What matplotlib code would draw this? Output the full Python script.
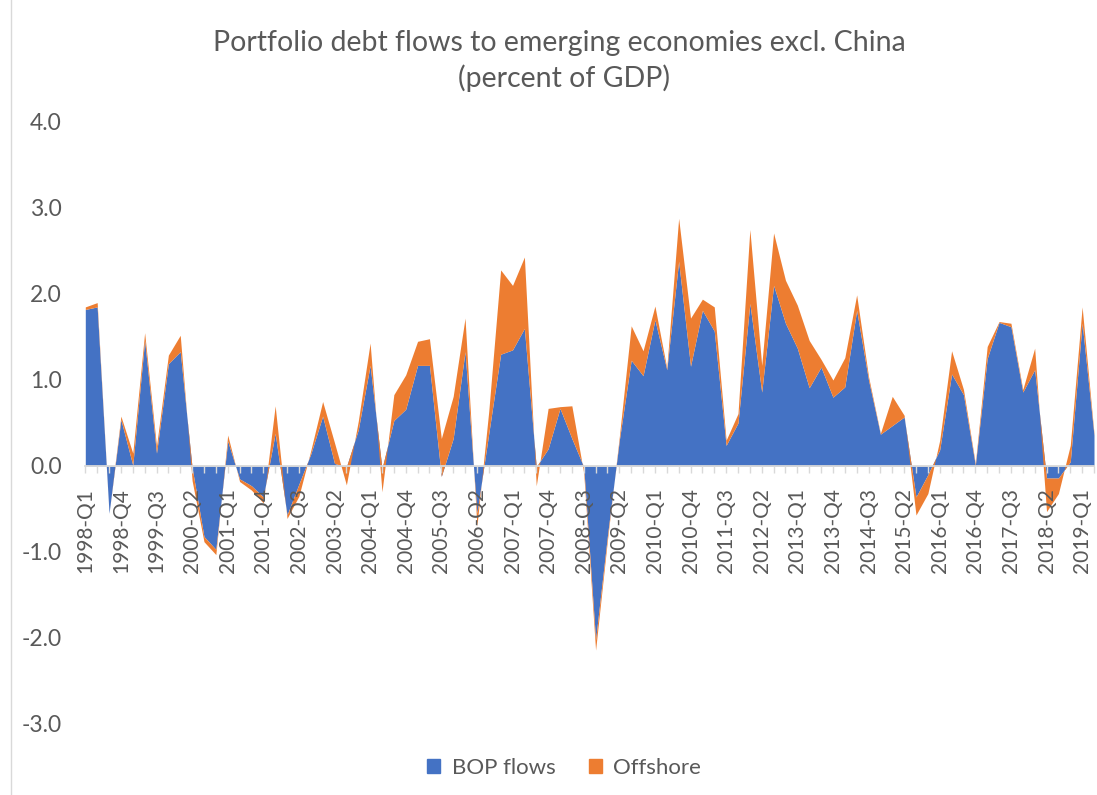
import numpy as np
import matplotlib
matplotlib.use("Agg")
import matplotlib.pyplot as plt
from matplotlib.patches import Patch
from matplotlib.lines import Line2D

plt.rcParams['font.family'] = ['Lato', 'DejaVu Sans']

# quarterly series, 1998-Q1 .. 2019-Q2 (percent of GDP)
years = list(range(1998, 2020))
quarters = ['%d-Q%d' % (y, q) for y in years for q in range(1, 5)][:86]

bop_flows = [1.82, 1.85, -0.55, 0.54, 0.01, 1.46, 0.15, 1.19,
             1.33, -0.02, -0.82, -0.97, 0.29, -0.15, -0.23, -0.36,
             0.38, -0.57, -0.21, 0.14, 0.58, 0.03, -0.01, 0.42,
             1.17, -0.03, 0.53, 0.66, 1.17, 1.17, -0.12, 0.32,
             1.33, -0.55, 0.38, 1.30, 1.35, 1.60, -0.01, 0.20,
             0.67, 0.32, -0.01, -2.02, -0.81, 0.30, 1.23, 1.05,
             1.70, 1.12, 2.38, 1.16, 1.81, 1.57, 0.24, 0.50,
             1.89, 0.86, 2.10, 1.66, 1.37, 0.91, 1.15, 0.80,
             0.92, 1.81, 1.00, 0.37, 0.47, 0.57, -0.36, -0.10,
             0.19, 1.07, 0.83, 0.01, 1.25, 1.67, 1.62, 0.86,
             1.12, -0.14, -0.14, 0.05, 1.66, 0.36]

offshore = [0.03, 0.05, 0.00, 0.04, 0.14, 0.09, 0.08, 0.10,
            0.19, -0.15, -0.06, -0.06, 0.07, -0.03, -0.05, -0.07,
            0.32, -0.04, -0.14, 0.04, 0.17, 0.24, -0.21, 0.10,
            0.26, -0.27, 0.30, 0.40, 0.28, 0.31, 0.44, 0.49,
            0.39, -0.15, 0.26, 0.98, 0.75, 0.83, -0.22, 0.47,
            0.02, 0.38, -0.07, -0.12, -0.05, 0.04, 0.40, 0.29,
            0.16, 0.02, 0.50, 0.56, 0.13, 0.28, 0.06, 0.11,
            0.86, 0.31, 0.61, 0.50, 0.50, 0.55, 0.09, 0.20,
            0.34, 0.18, 0.04, 0.01, 0.34, 0.02, -0.21, -0.22,
            0.11, 0.27, 0.06, 0.02, 0.14, 0.01, 0.04, 0.03,
            0.25, -0.39, -0.18, 0.19, 0.19, 0.02]

yticks = [-3.0, -2.0, -1.0, 0.0, 1.0, 2.0, 3.0, 4.0]

blue = '#4472C4'
orange = '#ED7D31'
grey_txt = '#595959'
grey_line = '#D9D9D9'

W, H = 1097, 795
fig = plt.figure(figsize=(W / 100, H / 100), dpi=100)
ax = fig.add_axes([85.3 / W, 71 / H, (1094 - 85.3) / W, 602 / H])

x = np.arange(len(quarters))
b = np.array(bop_flows)
tot = b + np.array(offshore)

ax.fill_between(x, 0, b, color=blue, lw=0)
ax.fill_between(x, b, tot, color=orange, lw=0)

ax.set_xlim(0, len(quarters) - 1)
ax.set_ylim(-3, 4)

for s in ['left', 'right', 'top']:
    ax.spines[s].set_visible(False)
ax.spines['bottom'].set_position(('data', 0))
ax.spines['bottom'].set_color(grey_line)
ax.spines['bottom'].set_linewidth(1.3)
ax.spines['bottom'].set_zorder(5)

ax.set_yticks(yticks)
ax.set_yticklabels(['%.1f' % v for v in yticks])
ax.tick_params(axis='y', length=0, pad=17, labelsize=16.5, labelcolor=grey_txt)

ax.set_xticks(x[::3])
ax.set_xticklabels(quarters[::3], rotation=90)
ax.set_xticks(x, minor=True)
ax.tick_params(axis='x', which='both', direction='out', length=5, width=1,
               color=grey_line, labelsize=15, labelcolor=grey_txt, pad=11)

fig.text(0.51, 1 - 43 / H, 'Portfolio debt flows to emerging economies excl. China',
         ha='center', va='center', fontsize=20.5, color=grey_txt)
fig.text(0.514, 1 - 78 / H, '(percent of GDP)',
         ha='center', va='center', fontsize=20.5, color=grey_txt)

handles = [Patch(color=blue, label='BOP flows'), Patch(color=orange, label='Offshore')]
fig.legend(handles=handles, loc='center', bbox_to_anchor=(564 / W, 1 - 768 / H),
           ncol=2, frameon=False, fontsize=16, labelcolor=grey_txt,
           handlelength=0.6, handleheight=0.6, handletextpad=0.5, columnspacing=1.5)

# thin border on the left edge of the chart area
fig.add_artist(Line2D([10.5 / W, 10.5 / W], [0, 1], color=grey_line, lw=1,
                      transform=fig.transFigure))

fig.savefig('out.png', dpi=100)
